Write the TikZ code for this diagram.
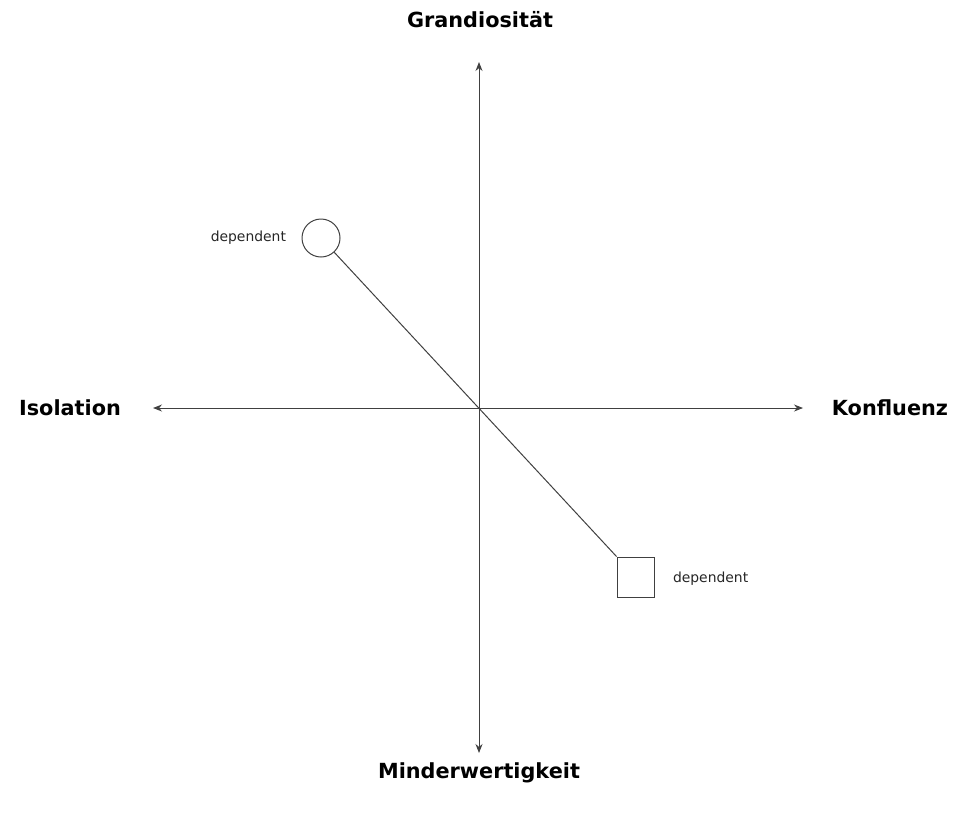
\documentclass[tikz,border=0pt]{standalone}
\usepackage{fontspec}
\setmainfont{DejaVu Sans}
\usetikzlibrary{positioning,arrows.meta}

\begin{document}
\begin{tikzpicture}[
			x=1pt, y=-1pt
			,axis/.style={draw=black!75, line width=1pt, -{Stealth[length=9pt,width=7pt]}}
			,pole/.style={font=\fontsize{20.8}{24}\selectfont\bfseries, text=black}
			,tag/.style={font=\fontsize{13.9}{16}\selectfont, text=black!85}
			,mark1/.style={circle, draw=black!75, line width=1pt, minimum size=38pt, inner sep=0pt}
			,mark2/.style={rectangle, draw=black!75, line width=1pt, minimum width=37pt, minimum height=40pt, inner sep=0pt}
		]
			\useasboundingbox (0,0) rectangle (957,814);
			\coordinate (O) at (479,408);
			\coordinate (N) at (479,62);
			\coordinate (S) at (479,753);
			\coordinate (W) at (153,408);
			\coordinate (E) at (803,408);
			% axes
			\draw [axis] (O) -- (N);
			\draw [axis] (O) -- (S);
			\draw [axis] (O) -- (W);
			\draw [axis] (O) -- (E);
			% poles
			\node [pole] (grand) at (480,20) {Grandiosität};
			\node [pole] (minder) at (479,773) {Minderwertigkeit};
			\node [pole] (iso) at (70,408) {Isolation};
			\node [pole] (konf) at (890,408) {Konfluenz};
			% dependents
			\node [mark1] (circ) at (321,238) {};
			\node [mark2] (sq) at (635.5,577) {};
			\node [tag, left=12pt of circ] (tcirc) {dependent};
			\node [tag, right=15pt of sq, yshift=-2pt] (tsq) {dependent};
			\draw [draw=black!75, line width=1pt] (circ) -- (sq.north west);
		\end{tikzpicture}
\end{document}
